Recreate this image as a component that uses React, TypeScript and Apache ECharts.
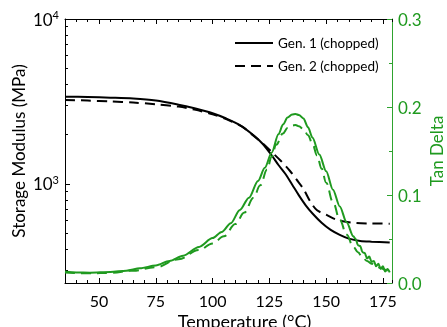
import React, { useEffect, useRef } from "react";
import * as echarts from "echarts";

const gen1Temp = [35, 45, 55, 65, 75, 85, 92, 100, 106, 112, 118, 122, 126, 129, 132, 135, 138, 141, 144, 148, 152, 156, 160, 165, 170, 178];
const gen1Modulus = [3380, 3360, 3330, 3290, 3200, 3020, 2870, 2680, 2490, 2270, 1970, 1750, 1490, 1300, 1150, 990, 850, 740, 660, 580, 525, 490, 465, 450, 445, 440];

const gen2Temp = [35, 45, 55, 65, 75, 85, 92, 100, 106, 113, 118, 122, 126, 130, 134, 137, 140, 143, 146, 150, 154, 158, 163, 170, 178];
const gen2Modulus = [3230, 3200, 3160, 3110, 3040, 2940, 2820, 2640, 2470, 2220, 1960, 1760, 1560, 1380, 1200, 1060, 930, 780, 690, 650, 610, 590, 578, 574, 573];

const gen1TanTemp = [35, 40, 46, 55, 62, 68, 75, 81, 87, 94, 100, 104, 108, 112, 116, 120, 123, 126, 129, 131, 133, 135, 136.5, 138, 140, 142, 144, 147, 150, 153, 156, 159, 162, 163, 164, 165, 166, 167, 168, 169, 170, 171, 172, 173, 174, 175, 176, 177, 178];
const gen1Tan = [0.013, 0.012, 0.0117, 0.0125, 0.014, 0.0167, 0.02, 0.025, 0.031, 0.041, 0.051, 0.058, 0.068, 0.083, 0.097, 0.116, 0.131, 0.148, 0.169, 0.18, 0.188, 0.1915, 0.192, 0.191, 0.187, 0.177, 0.165, 0.146, 0.127, 0.106, 0.087, 0.069, 0.053, 0.05, 0.043, 0.042, 0.035, 0.034, 0.028, 0.03, 0.024, 0.025, 0.019, 0.022, 0.016, 0.019, 0.013, 0.016, 0.012];

const gen2TanTemp = [35, 46, 55, 65, 75, 85, 94, 100, 105, 110, 114, 118, 121, 124, 126, 128, 131, 133, 135, 136.5, 138, 140, 142, 144, 146, 148, 150, 153, 156, 159, 162, 164, 166, 168, 170, 172, 174, 176, 178];
const gen2Tan = [0.012, 0.011, 0.0115, 0.014, 0.018, 0.027, 0.0375, 0.045, 0.053, 0.067, 0.08, 0.097, 0.111, 0.129, 0.1435, 0.157, 0.17, 0.176, 0.179, 0.1795, 0.178, 0.175, 0.168, 0.158, 0.145, 0.13, 0.114, 0.092, 0.072, 0.055, 0.041, 0.035, 0.029, 0.025, 0.022, 0.019, 0.017, 0.015, 0.013];

const xMajorTicks = [50, 75, 100, 125, 150, 175];
const yMajorTicks = [1000, 10000];
const yMinorTicks = [300, 400, 500, 600, 700, 800, 900, 2000, 3000, 4000, 5000, 6000, 7000, 8000, 9000];

const zip = (a: number[], b: number[]) => a.map((v, i) => [v, b[i]]);

const FONT = "Lato";
const GREEN = "#1f9a1f";
const AXISGREEN = "#2ea32e";

export default function App() {
  const ref = useRef<HTMLDivElement>(null);
  useEffect(() => {
    if (!ref.current) return;
    const chart = echarts.init(ref.current, null, { renderer: "svg" });
    const xBase = { type: "value", min: 35, max: 179, gridIndex: 0, splitLine: { show: false } };
    chart.setOption({
      animation: false,
      textStyle: { fontFamily: FONT },
      grid: { left: 65, right: 55, top: 19, bottom: 44, containLabel: false, outerBoundsMode: "none" },
      legend: {
        data: ["Gen. 1 (chopped)", "Gen. 2 (chopped)"],
        orient: "vertical",
        left: 229,
        top: 31,
        itemWidth: 38,
        itemHeight: 14,
        itemGap: 9,
        itemStyle: { opacity: 0 },
        textStyle: { fontFamily: FONT, fontSize: 13.5, color: "#000" },
      },
      xAxis: [
        {
          ...xBase,
          position: "bottom",
          interval: 5,
          name: "Temperature (°C)",
          nameLocation: "middle",
          nameGap: 29,
          nameMoveOverlap: false,
          nameTextStyle: { fontFamily: FONT, fontSize: 18, color: "#000", padding: [0, 0, 0, 32] },
          axisLine: { show: true, lineStyle: { color: "#000", width: 1 } },
          axisTick: { show: true, inside: true, length: 3, lineStyle: { color: "#000" } },
          axisLabel: {
            show: true,
            fontFamily: FONT,
            fontSize: 16,
            color: "#000",
            margin: 9,
            formatter: (v: number) => (v % 25 === 0 ? String(v) : ""),
          },
        },
        {
          ...xBase,
          position: "bottom",
          axisLine: { show: false },
          axisTick: { show: true, inside: true, length: 5, customValues: xMajorTicks, lineStyle: { color: "#000" } },
          axisLabel: { show: false },
        },
        {
          ...xBase,
          position: "top",
          interval: 5,
          axisLine: { show: true, lineStyle: { color: "#000", width: 1 } },
          axisTick: { show: true, inside: true, length: 3, lineStyle: { color: "#000" } },
          axisLabel: { show: false },
        },
        {
          ...xBase,
          position: "top",
          axisLine: { show: false },
          axisTick: { show: true, inside: true, length: 5, customValues: xMajorTicks, lineStyle: { color: "#000" } },
          axisLabel: { show: false },
        },
      ],
      yAxis: [
        {
          type: "log",
          logBase: 10,
          min: 250,
          max: 10000,
          position: "left",
          name: "Storage Modulus (MPa)",
          nameLocation: "middle",
          nameGap: 38,
          nameMoveOverlap: false,
          nameTextStyle: { fontFamily: FONT, fontSize: 17, color: "#000" },
          splitLine: { show: false },
          axisLine: { show: true, lineStyle: { color: "#000", width: 1 } },
          axisTick: { show: true, inside: true, length: 5, customValues: yMajorTicks, lineStyle: { color: "#000" } },
          axisLabel: {
            show: true,
            customValues: yMajorTicks,
            margin: 6,
            formatter: (v: number) => {
              const e = Math.round(Math.log10(v));
              return "{b|10}{s|" + e + "}";
            },
            rich: {
              b: { fontFamily: FONT, fontSize: 17, color: "#000", lineHeight: 20 },
              s: { fontFamily: FONT, fontSize: 11, color: "#000", verticalAlign: "top", lineHeight: 20, padding: [0, 0, 8, 0] },
            },
          },
        },
        {
          type: "value",
          min: 0,
          max: 0.3,
          interval: 0.1,
          position: "right",
          name: "Tan Delta",
          nameLocation: "middle",
          nameGap: 36,
          nameMoveOverlap: false,
          nameTextStyle: { fontFamily: FONT, fontSize: 17, color: GREEN },
          splitLine: { show: false },
          axisLine: { show: true, lineStyle: { color: AXISGREEN, width: 1 } },
          axisTick: { show: true, inside: true, length: 5, lineStyle: { color: AXISGREEN } },
          minorTick: { show: true, splitNumber: 2, length: 3, lineStyle: { color: AXISGREEN } },
          axisLabel: {
            show: true,
            fontFamily: FONT,
            fontSize: 17,
            color: GREEN,
            margin: 6,
            formatter: (v: number) => v.toFixed(1),
          },
        },
        {
          type: "log",
          logBase: 10,
          min: 250,
          max: 10000,
          position: "left",
          splitLine: { show: false },
          axisLine: { show: false },
          axisTick: { show: true, inside: true, length: 3, customValues: yMinorTicks, lineStyle: { color: "#000" } },
          axisLabel: { show: false },
        },
      ],
      series: [
        {
          name: "Gen. 1 (chopped)",
          type: "line",
          xAxisIndex: 0,
          yAxisIndex: 0,
          data: zip(gen1Temp, gen1Modulus),
          symbol: "none",
          smooth: 0.3,
          lineStyle: { color: "#000", width: 2 },
          itemStyle: { color: "#000" },
        },
        {
          name: "Gen. 2 (chopped)",
          type: "line",
          xAxisIndex: 0,
          yAxisIndex: 0,
          data: zip(gen2Temp, gen2Modulus),
          symbol: "none",
          smooth: 0.3,
          lineStyle: { color: "#000", width: 2, type: [10, 6] },
          itemStyle: { color: "#000" },
        },
        {
          name: "Gen. 1 tan delta",
          type: "line",
          xAxisIndex: 0,
          yAxisIndex: 1,
          data: zip(gen1TanTemp, gen1Tan),
          symbol: "none",
          smooth: 0.3,
          smoothMonotone: "x",
          lineStyle: { color: GREEN, width: 2 },
          itemStyle: { color: GREEN },
        },
        {
          name: "Gen. 2 tan delta",
          type: "line",
          xAxisIndex: 0,
          yAxisIndex: 1,
          data: zip(gen2TanTemp, gen2Tan),
          symbol: "none",
          smooth: 0.4,
          smoothMonotone: "x",
          lineStyle: { color: GREEN, width: 2, type: [10, 6] },
          itemStyle: { color: GREEN },
        },
      ],
    });
    return () => chart.dispose();
  }, []);
  return <div ref={ref} style={{ position: "fixed", left: 0, top: 0, width: 447, height: 327 }} />;
}
